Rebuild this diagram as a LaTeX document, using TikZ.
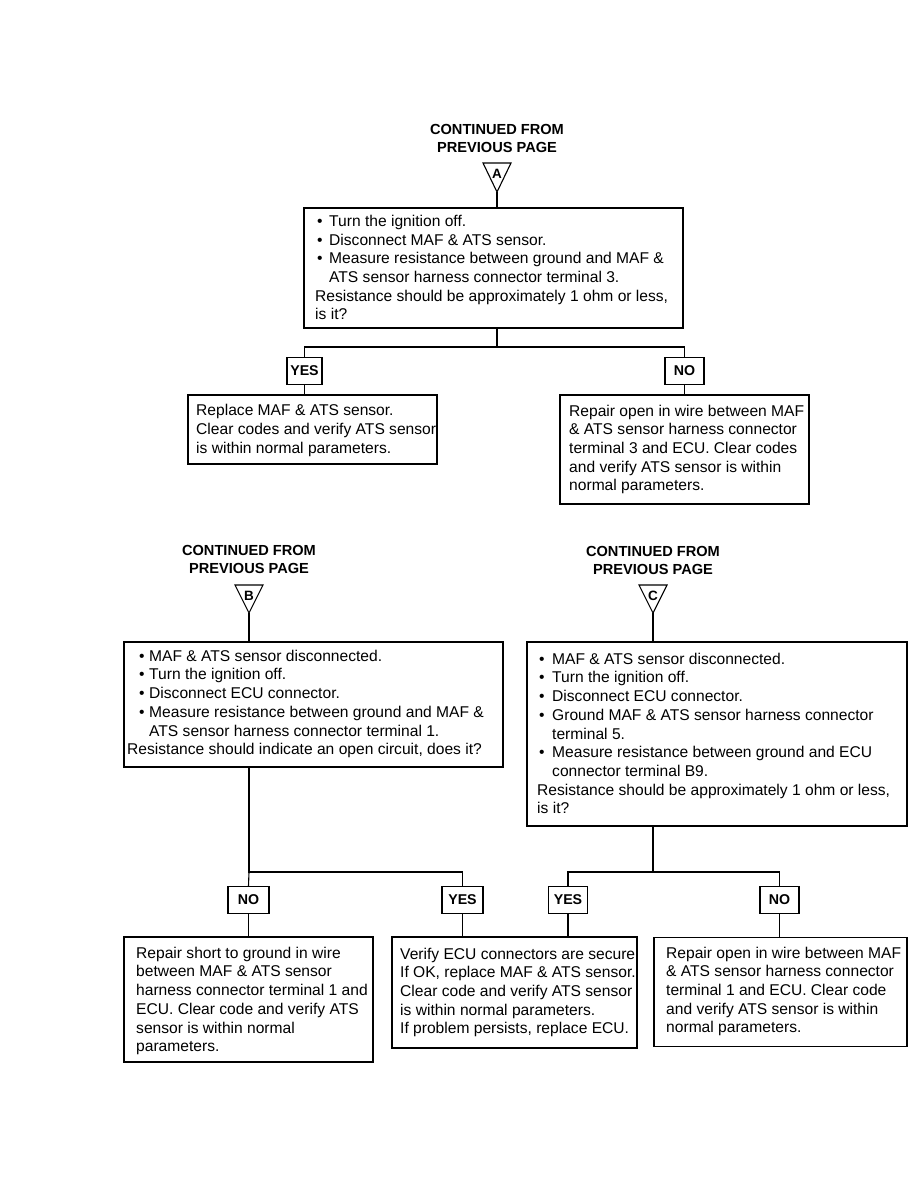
\documentclass[tikz,border=0pt]{standalone}
\usepackage{fontspec}
\setmainfont{Liberation Sans}
\newcommand\mybul[2]{\hspace*{#1pt}\makebox[#2pt][l]{\textbullet}}
\newcommand\myind[1]{\hspace*{#1pt}}
\begin{document}
\begin{tikzpicture}[x=1pt,y=-1pt,
  box/.style={draw, line width=1.1pt, inner sep=0pt},
  tx/.style={anchor=west, align=left, inner sep=0pt, font=\fontsize{15.6}{18.7}\selectfont},
  hdr/.style={align=center, inner sep=0pt, font=\fontsize{14.6}{18}\selectfont\bfseries},
  lab/.style={draw, line width=1.1pt, inner sep=0pt, minimum height=27, font=\fontsize{14.2}{16}\selectfont\bfseries},
  tlet/.style={inner sep=0pt, font=\fontsize{13.5}{14}\selectfont\bfseries},
  tri/.style={line width=1.1pt},
  ln/.style={line width=1.1pt}]
\useasboundingbox (0,0) rectangle (918,1188);

% ---------- section A ----------
\node[hdr] (hA) at (497,138) {CONTINUED FROM\\PREVIOUS PAGE};
\coordinate (Aapex) at (497,192);
\draw[tri] (483,163) -- (511,163) -- (Aapex) -- cycle;
\node[tlet] (Al) at (497,173.5) {A};
\node[box, minimum width=379, minimum height=120] (bA) at (493.5,268) {};
\node[tx] (tA) at (315,267.5) {\mybul{2}{12}Turn the ignition off.\\
\mybul{2}{12}Disconnect MAF \& ATS sensor.\\
\mybul{2}{12}Measure resistance between ground and MAF \&\\
\myind{14}ATS sensor harness connector terminal 3.\\
Resistance should be approximately 1 ohm or less,\\
is it?};
\draw[ln] (Aapex) -- (Aapex |- bA.north);
\coordinate (jA) at (497,347);
\node[lab, minimum width=35] (yA) at (304.5,371) {YES};
\node[lab, minimum width=39] (nA) at (684.5,371) {NO};
\draw[ln] (jA |- bA.south) -- (jA);
\draw[ln] (yA.north) |- (jA) -| (nA.north);
\node[box, minimum width=249, minimum height=69] (rA) at (312.5,429.5) {};
\node[tx] (trA) at (196,430.5) {Replace MAF \& ATS sensor.\\
Clear codes and verify ATS sensor\\
is within normal parameters.};
\node[box, minimum width=249, minimum height=109] (oA) at (684.5,449.5) {};
\node[tx] (toA) at (569,449.5) {Repair open in wire between MAF\\
\& ATS sensor harness connector\\
terminal 3 and ECU. Clear codes\\
and verify ATS sensor is within\\
normal parameters.};
\draw[ln] (yA.south) -- (yA.south |- rA.north);
\draw[ln] (nA.south) -- (nA.south |- oA.north);

% ---------- section B ----------
\node[hdr] (hB) at (249,559) {CONTINUED FROM\\PREVIOUS PAGE};
\coordinate (Bapex) at (249,613);
\draw[tri] (235,585) -- (263,585) -- (Bapex) -- cycle;
\node[tlet] (Bl) at (249,595.5) {B};
\node[box, minimum width=379, minimum height=125] (bB) at (313.5,704.5) {};
\node[tx] (tB) at (127,704) {\mybul{12}{10}MAF \& ATS sensor disconnected.\\
\mybul{12}{10}Turn the ignition off.\\
\mybul{12}{10}Disconnect ECU connector.\\
\mybul{12}{10}Measure resistance between ground and MAF \&\\
\myind{22}ATS sensor harness connector terminal 1.\\
Resistance should indicate an open circuit, does it?};
\draw[ln] (Bapex) -- (Bapex |- bB.north);
\coordinate (jB) at (249,872);
\node[lab, minimum width=41] (nB) at (248.5,900) {NO};
\node[lab, minimum width=41] (yB) at (462.5,900) {YES};
\draw[ln] (jB |- bB.south) -- (jB) -| (yB.north);
\draw[ln] (jB) -- (nB.north);
\node[box, minimum width=249, minimum height=125] (sB) at (248.5,999.5) {};
\node[tx] (tsB) at (136,1001) {Repair short to ground in wire\\
between MAF \& ATS sensor\\
harness connector terminal 1 and\\
ECU. Clear code and verify ATS\\
sensor is within normal\\
parameters.};
\node[box, minimum width=245, minimum height=111] (vB) at (514.5,992.5) {};
\node[tx] (tvB) at (400,992.5) {Verify ECU connectors are secure.\\
If OK, replace MAF \& ATS sensor.\\
Clear code and verify ATS sensor\\
is within normal parameters.\\
If problem persists, replace ECU.};
\draw[ln] (nB.south) -- (nB.south |- sB.north);
\draw[ln] (yB.south) -- (yB.south |- vB.north);

% ---------- section C ----------
\node[hdr] (hC) at (653,560) {CONTINUED FROM\\PREVIOUS PAGE};
\coordinate (Capex) at (653,613);
\draw[tri] (639,585) -- (667,585) -- (Capex) -- cycle;
\node[tlet] (Cl) at (653,595.5) {C};
\node[box, minimum width=380, minimum height=184] (bC) at (717,734) {};
\node[tx] (tC) at (537,733.5) {\mybul{2}{13}MAF \& ATS sensor disconnected.\\
\mybul{2}{13}Turn the ignition off.\\
\mybul{2}{13}Disconnect ECU connector.\\
\mybul{2}{13}Ground MAF \& ATS sensor harness connector\\
\myind{15}terminal 5.\\
\mybul{2}{13}Measure resistance between ground and ECU\\
\myind{15}connector terminal B9.\\
Resistance should be approximately 1 ohm or less,\\
is it?};
\draw[ln] (Capex) -- (Capex |- bC.north);
\coordinate (jC) at (653,872);
\node[lab, minimum width=39] (yC) at (568,900) {YES};
\node[lab, minimum width=39] (nC) at (779.5,900) {NO};
\draw[ln] (jC |- bC.south) -- (jC);
\draw[ln] (yC.north) |- (jC) -| (nC.north);
\node[box, minimum width=253, minimum height=109] (oC) at (780.5,992) {};
\node[tx] (toC) at (666,991.5) {Repair open in wire between MAF\\
\& ATS sensor harness connector\\
terminal 1 and ECU. Clear code\\
and verify ATS sensor is within\\
normal parameters.};
\draw[ln] (yC.south) -- (yC.south |- vB.north);
\draw[ln] (nC.south) -- (nC.south |- oC.north);
\end{tikzpicture}
\end{document}
